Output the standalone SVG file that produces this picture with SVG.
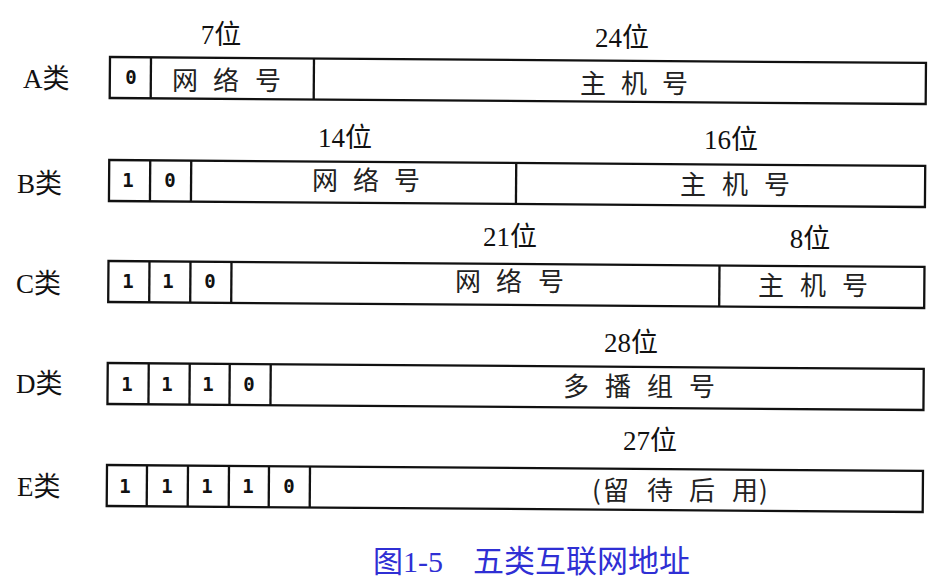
<svg xmlns="http://www.w3.org/2000/svg" width="947" height="582" viewBox="0 0 947 582">
<style>
.box{fill:#fff;stroke:#111;stroke-width:2.3}
.div{stroke:#111;stroke-width:2.3}
.cls{font-family:"Liberation Serif","Noto Sans CJK SC",serif;font-size:27px;fill:#111}
.bits{font-family:"Liberation Serif","Noto Sans CJK SC",serif;font-size:27px;fill:#111;text-anchor:middle}
.dig{font-family:"DejaVu Sans Mono","Liberation Mono",monospace;font-size:19px;font-weight:bold;fill:#111;text-anchor:middle}
.fld{font-family:"Noto Sans CJK SC",sans-serif;font-size:26px;fill:#222}
.cap{font-family:"Liberation Serif","Noto Sans CJK SC",serif;font-size:30px;fill:#2f2fd4}
</style>
<rect width="947" height="582" fill="#fff"/>
<g id="row-A">
  <g transform="rotate(0.42 110 57)">
    <rect class="box" x="110" y="57" width="816" height="41"/>
    <line class="div" x1="151" y1="57" x2="151" y2="98"/>
    <line class="div" x1="314" y1="57" x2="314" y2="98"/>
  </g>
  <text class="cls" x="23" y="88">A类</text>
  <text class="bits" x="221" y="44">7位</text>
  <text class="bits" x="622" y="47">24位</text>
  <text class="dig" x="131" y="84">0</text>
  <text class="fld" x="172 213 255" y="90">网络号</text>
  <text class="fld" x="580 621 662" y="93">主机号</text>
</g>
<g id="row-B">
  <g transform="rotate(0.42 110 57)">
    <rect class="box" x="110" y="160" width="816" height="41"/>
    <line class="div" x1="151" y1="160" x2="151" y2="201"/>
    <line class="div" x1="192" y1="160" x2="192" y2="201"/>
    <line class="div" x1="517" y1="160" x2="517" y2="201"/>
  </g>
  <text class="cls" x="17" y="193">B类</text>
  <text class="bits" x="345" y="147">14位</text>
  <text class="bits" x="731" y="149">16位</text>
  <text class="dig" x="128" y="187">1</text>
  <text class="dig" x="170" y="187">0</text>
  <text class="fld" x="312 353 394" y="190">网络号</text>
  <text class="fld" x="680 722 764" y="194">主机号</text>
</g>
<g id="row-C">
  <g transform="rotate(0.42 110 57)">
    <rect class="box" x="110" y="261" width="816" height="41"/>
    <line class="div" x1="151" y1="261" x2="151" y2="302"/>
    <line class="div" x1="192" y1="261" x2="192" y2="302"/>
    <line class="div" x1="233" y1="261" x2="233" y2="302"/>
    <line class="div" x1="721" y1="261" x2="721" y2="302"/>
  </g>
  <text class="cls" x="16" y="293">C类</text>
  <text class="bits" x="510" y="246">21位</text>
  <text class="bits" x="810" y="248">8位</text>
  <text class="dig" x="128" y="288">1</text>
  <text class="dig" x="168" y="288">1</text>
  <text class="dig" x="210" y="288">0</text>
  <text class="fld" x="455 496 538" y="291">网络号</text>
  <text class="fld" x="758 800 842" y="295">主机号</text>
</g>
<g id="row-D">
  <g transform="rotate(0.42 110 57)">
    <rect class="box" x="110" y="363" width="816" height="41"/>
    <line class="div" x1="151" y1="363" x2="151" y2="404"/>
    <line class="div" x1="192" y1="363" x2="192" y2="404"/>
    <line class="div" x1="232" y1="363" x2="232" y2="404"/>
    <line class="div" x1="273" y1="363" x2="273" y2="404"/>
  </g>
  <text class="cls" x="16" y="393">D类</text>
  <text class="bits" x="631" y="352">28位</text>
  <text class="dig" x="127" y="391">1</text>
  <text class="dig" x="167" y="391">1</text>
  <text class="dig" x="208" y="391">1</text>
  <text class="dig" x="249" y="391">0</text>
  <text class="fld" x="563 605 647 689" y="396">多播组号</text>
</g>
<g id="row-E">
  <g transform="rotate(0.42 110 57)">
    <rect class="box" x="110" y="465" width="816" height="41"/>
    <line class="div" x1="150" y1="465" x2="150" y2="506"/>
    <line class="div" x1="191" y1="465" x2="191" y2="506"/>
    <line class="div" x1="232" y1="465" x2="232" y2="506"/>
    <line class="div" x1="272" y1="465" x2="272" y2="506"/>
    <line class="div" x1="313" y1="465" x2="313" y2="506"/>
  </g>
  <text class="cls" x="17" y="496">E类</text>
  <text class="bits" x="650" y="450">27位</text>
  <text class="dig" x="125" y="493">1</text>
  <text class="dig" x="167" y="493">1</text>
  <text class="dig" x="207" y="493">1</text>
  <text class="dig" x="248" y="493">1</text>
  <text class="dig" x="289" y="493">0</text>
  <text class="fld" x="592 603 647 689 732 759" y="500">(留待后用)</text>
</g>
<g id="caption">
  <text class="cap" x="373" y="572">图1-5</text>
  <text class="cap" x="473" y="572" style="font-size:31px">五类互联网地址</text>
</g>
</svg>
